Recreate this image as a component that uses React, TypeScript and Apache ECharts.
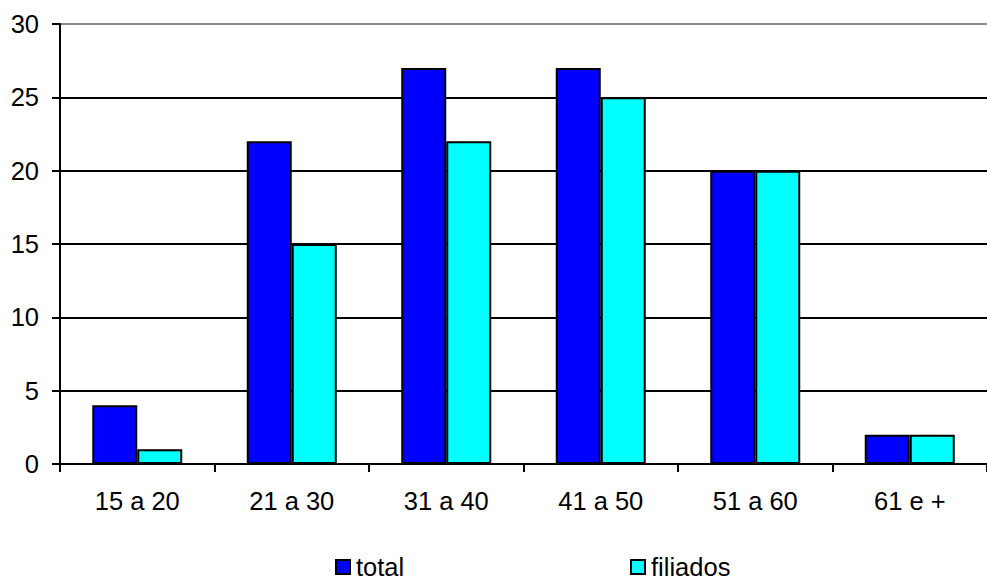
import React, { useEffect, useRef } from "react";
import * as echarts from "echarts";

const categories = ["15 a 20", "21 a 30", "31 a 40", "41 a 50", "51 a 60", "61 e +"];
const totalValues = [4, 22, 27, 27, 20, 2];
const filiadosValues = [1, 15, 22, 25, 20, 2];
const seriesNames = ["total", "filiados"];

const FONT = "'Liberation Sans', Arial, sans-serif";
const FS = 25.5;

export default function App() {
  const ref = useRef<HTMLDivElement>(null);
  useEffect(() => {
    if (!ref.current) return;
    const chart = echarts.init(ref.current, undefined, { renderer: "svg" });
    const legendBase = {
      orient: "horizontal" as const,
      top: 554,
      padding: 0,
      itemWidth: 14,
      itemHeight: 14,
      itemGap: 6,
      icon: "rect",
      textStyle: {
        fontFamily: FONT,
        fontSize: FS,
        color: "#000",
        padding: [0, 0, 0, 1],
      },
      selectedMode: false,
    };
    chart.setOption({
      animation: false,
      backgroundColor: "#fff",
      textStyle: { fontFamily: FONT },
      grid: { left: 60, top: 24, height: 440, width: 938, containLabel: false },
      legend: [
        { ...legendBase, left: 335, data: [seriesNames[0]] },
        { ...legendBase, left: 630, data: [seriesNames[1]] },
      ],
      xAxis: {
        type: "category",
        data: categories,
        axisLine: { lineStyle: { color: "#000", width: 2 } },
        axisTick: { show: true, length: 8, lineStyle: { color: "#000", width: 2 } },
        axisLabel: { color: "#000", fontSize: FS, fontFamily: FONT, margin: 24 },
      },
      yAxis: {
        type: "value",
        min: 0,
        max: 30,
        interval: 5,
        axisLine: { show: true, lineStyle: { color: "#000", width: 2 } },
        axisTick: { show: true, length: 8, lineStyle: { color: "#000", width: 2 } },
        axisLabel: { color: "#000", fontSize: FS, fontFamily: FONT, margin: 21 },
        splitLine: {
          show: true,
          lineStyle: {
            color: ["#000", "#000", "#000", "#000", "#000", "#000", "#888"],
            width: 2,
          },
        },
      },
      series: [
        {
          name: seriesNames[0],
          type: "bar",
          data: totalValues,
          barWidth: 45,
          barGap: "0%",
          itemStyle: { color: "#0000FF", borderColor: "#000", borderWidth: 2 },
        },
        {
          name: seriesNames[1],
          type: "bar",
          data: filiadosValues,
          barWidth: 45,
          barGap: "0%",
          itemStyle: { color: "#00FFFF", borderColor: "#000", borderWidth: 2 },
        },
      ],
    });
    return () => chart.dispose();
  }, []);
  return (
    <div
      ref={ref}
      style={{ position: "absolute", left: 0, top: 0, width: 987, height: 581 }}
    />
  );
}
